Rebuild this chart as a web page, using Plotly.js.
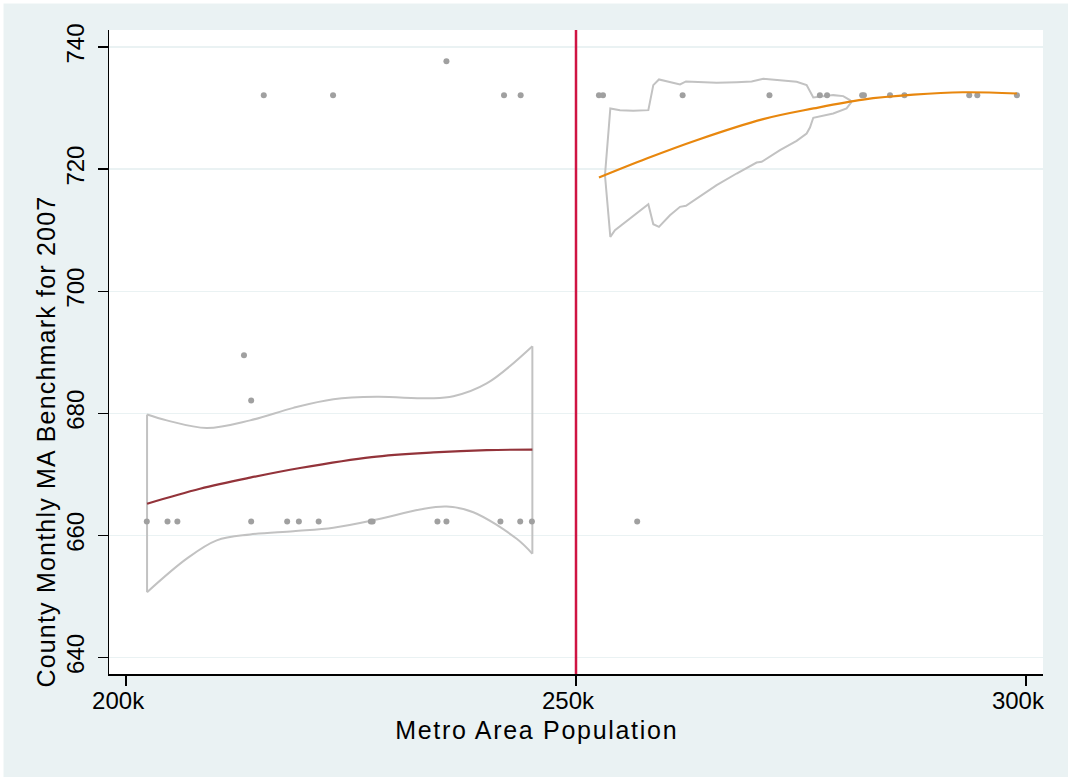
<!DOCTYPE html>
<html>
<head>
<meta charset="utf-8">
<script src="https://cdn.plot.ly/plotly-3.0.1.min.js"></script>
<style>
html,body{margin:0;padding:0;background:#ffffff;}
#chart{width:1068px;height:777px;}
g.annotation[data-index="0"] text{letter-spacing:1.7px;}
g.annotation[data-index="1"] text{letter-spacing:1.2px;}
</style>
</head>
<body>
<div id="chart"></div>
<script>
// ---- data (x in thousands of population) ----
const cutoff = 250;

const belowX = [202.3, 204.6, 205.7, 213.9, 217.9, 219.2, 221.4, 227.2, 227.4, 234.6, 235.6, 241.6, 243.8, 245.1,
                213.1, 213.9, 215.3, 223.0, 235.6, 242.0, 243.85];
const belowY = [662.3, 662.3, 662.3, 662.3, 662.3, 662.3, 662.3, 662.3, 662.3, 662.3, 662.3, 662.3, 662.3, 662.3,
                689.5, 682.1, 732.1, 732.1, 737.7, 732.1, 732.1];

const aboveX = [252.55, 253.0, 261.85, 271.5, 277.1, 277.9, 281.8, 282.0, 284.9, 286.5, 293.7, 294.6, 299.0, 256.8];
const aboveY = [732.1, 732.1, 732.1, 732.1, 732.1, 732.1, 732.1, 732.1, 732.1, 732.1, 732.1, 732.1, 732.1, 662.3];

const fitLeftX = [202.33, 208.22, 213.78, 219.33, 227.3, 234.15, 240.07, 245.15];
const fitLeftY = [665.2, 667.65, 669.46, 671.04, 672.84, 673.6, 673.98, 674.05];

const ciLeftUpX = [202.33, 204.52, 208.96, 213.78, 218.59, 223.04, 227.85, 233.78, 236.37, 240.07, 245.15];
const ciLeftUpY = [679.8, 678.85, 677.6, 678.85, 680.9, 682.3, 682.7, 682.46, 682.8, 684.9, 691.0];
const ciLeftLoX = [202.33, 206.74, 210.07, 213.78, 218.59, 223.04, 227.85, 232.67, 235.63, 238.59, 243.41, 245.15];
const ciLeftLoY = [650.7, 656.2, 659.2, 660.16, 660.7, 661.26, 662.6, 664.26, 664.75, 663.8, 659.45, 657.0];

const fitRightX = [252.55, 257.85, 263.4, 270.8, 276.4, 281.9, 287.5, 293.0, 299.0];
const fitRightY = [718.64, 721.75, 724.75, 728.2, 729.95, 731.4, 732.2, 732.6, 732.4];

const ciRightUpX = [253.22, 253.815, 254.89, 256.37, 258.04, 258.59, 259.22, 260.44, 261.56, 262.22, 263.41, 265.63,
                    267.85, 269.52, 270.81, 272.67, 274.52, 275.63, 276.37, 278.59, 279.7, 280.44, 280.63];
const ciRightUpY = [719.0, 729.95, 729.67, 729.56, 729.67, 733.77, 734.70, 734.21, 733.88, 734.37, 734.26, 734.15,
                    734.26, 734.37, 734.81, 734.59, 734.32, 733.77, 731.75, 732.13, 731.97, 731.31, 731.04];
const ciRightLoX = [253.22, 253.815, 254.33, 255.26, 256.37, 258.04, 258.59, 259.22, 260.44, 261.56, 262.22, 263.41,
                    265.63, 267.85, 270.07, 270.63, 272.67, 274.52, 275.63, 276.0, 276.37, 278.59, 280.07, 280.63];
const ciRightLoY = [719.0, 708.91, 710.0, 711.09, 712.35, 714.26, 710.98, 710.55, 712.46, 713.83, 713.99, 715.19,
                    717.38, 719.29, 721.09, 721.20, 723.11, 724.64, 725.85, 726.83, 728.42, 729.13, 729.95, 731.04];

const xTickVals = [200, 250, 300];
const xTickText = ["200k", "250k", "300k"];
const yTickVals = [640, 660, 680, 700, 720, 740];
const yTickText = ["640", "660", "680", "700", "720", "740"];

// ---- styling ----
const FONT = "Liberation Sans, Arial, Helvetica, sans-serif";
const ciColor = "#c2c2c2";
const ptColor = "#a0a0a0";

const lastL = ciLeftUpX.length - 1, lastLL = ciLeftLoX.length - 1;

const traces = [
  {x: ciLeftUpX, y: ciLeftUpY, mode: "lines", line: {color: ciColor, width: 2, shape: "spline"}, hoverinfo: "skip", showlegend: false},
  {x: ciLeftLoX, y: ciLeftLoY, mode: "lines", line: {color: ciColor, width: 2, shape: "spline"}, hoverinfo: "skip", showlegend: false},
  {x: [ciLeftUpX[0], ciLeftLoX[0], null, ciLeftUpX[lastL], ciLeftLoX[lastLL]],
   y: [ciLeftUpY[0], ciLeftLoY[0], null, ciLeftUpY[lastL], ciLeftLoY[lastLL]],
   mode: "lines", line: {color: ciColor, width: 2}, hoverinfo: "skip", showlegend: false},
  {x: ciRightUpX, y: ciRightUpY, mode: "lines", line: {color: ciColor, width: 2}, hoverinfo: "skip", showlegend: false},
  {x: ciRightLoX, y: ciRightLoY, mode: "lines", line: {color: ciColor, width: 2}, hoverinfo: "skip", showlegend: false},
  {x: belowX, y: belowY, mode: "markers", marker: {color: ptColor, size: 6}, showlegend: false},
  {x: aboveX, y: aboveY, mode: "markers", marker: {color: ptColor, size: 6}, showlegend: false},
  {x: fitLeftX, y: fitLeftY, mode: "lines", line: {color: "#93333a", width: 2.2, shape: "spline"}, showlegend: false},
  {x: fitRightX, y: fitRightY, mode: "lines", line: {color: "#e8870e", width: 2.2, shape: "spline"}, showlegend: false}
];

const W = 934, H = 644, L = 109, T = 30;
function px2paperX(p) { return (p - L) / W; }
function px2paperY(p) { return (T + H - p) / H; }

const layout = {
  width: 1068, height: 777,
  margin: {l: L, r: 1068 - L - W, t: T, b: 777 - T - H, pad: 0},
  paper_bgcolor: "#eaf2f3",
  plot_bgcolor: "#ffffff",
  font: {family: FONT, color: "#000000", size: 24},
  showlegend: false,
  xaxis: {
    range: [198.1, 301.9],
    tickmode: "array", tickvals: xTickVals, ticktext: xTickText,
    showgrid: false, zeroline: false,
    showline: true, linecolor: "#000000", linewidth: 1.5,
    ticks: "outside", ticklen: 10, tickwidth: 1.5, tickcolor: "#000000",
    tickfont: {family: FONT, size: 24, color: "#000000"},
    ticklabelshift: -8,
    ticklabelstandoff: -5
  },
  yaxis: {
    range: [637.3, 742.8],
    tickmode: "array", tickvals: yTickVals, ticktext: yTickText,
    showgrid: true, gridcolor: "#eaf2f3", gridwidth: 1.5,
    zeroline: false,
    showline: true, linecolor: "#000000", linewidth: 1.5,
    ticks: "outside", ticklen: 10, tickwidth: 1.5, tickcolor: "#000000",
    tickangle: -90,
    tickfont: {family: FONT, size: 24, color: "#000000"},
    ticklabelstandoff: 4
  },
  shapes: [
    {type: "line", xref: "x", yref: "paper", x0: cutoff, x1: cutoff, y0: 0, y1: 1,
     line: {color: "#cf1443", width: 2.5}, layer: "above"},
    {type: "rect", xref: "paper", yref: "paper", x0: px2paperX(-2), x1: px2paperX(3.5), y0: px2paperY(800), y1: px2paperY(-2),
     fillcolor: "#ffffff", line: {width: 0}, layer: "above"},
    {type: "rect", xref: "paper", yref: "paper", x0: px2paperX(-2), x1: px2paperX(1070), y0: px2paperY(3.5), y1: px2paperY(-2),
     fillcolor: "#ffffff", line: {width: 0}, layer: "above"}
  ],
  annotations: [
    {text: "Metro Area Population", xref: "paper", yref: "paper",
     x: px2paperX(536), y: px2paperY(730), xanchor: "center", yanchor: "middle",
     showarrow: false, font: {family: FONT, size: 25, color: "#000000"}},
    {text: "County Monthly MA Benchmark for 2007", xref: "paper", yref: "paper",
     x: px2paperX(46), y: px2paperY(442), xanchor: "center", yanchor: "middle", textangle: -90,
     showarrow: false, font: {family: FONT, size: 25, color: "#000000"}}
  ]
};

Plotly.newPlot("chart", traces, layout, {displayModeBar: false, staticPlot: true});
</script>
</body>
</html>
